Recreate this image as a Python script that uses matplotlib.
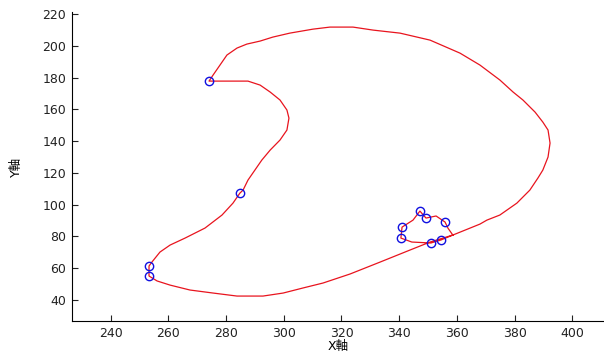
import numpy as np
import matplotlib.pyplot as plt

plt.rcParams['font.family'] = ['DejaVu Sans', 'Noto Sans CJK TC']

# contour traced as one path: small loop, outer arc, inner edge, bottom edge
path_x = [358.6, 356.9, 355.9, 352.8, 349.3, 347.2, 344.8, 341.0, 340.6, 344.4,
          351.0, 354.5, 358.6, 368.0, 370.4, 374.9, 380.8, 385.3, 388.1, 389.8,
          391.6, 392.3, 391.6, 389.8, 387.1, 382.9, 379.5, 374.9, 368.0, 361.1,
          350.7, 340.3, 331.0, 324.0, 316.0, 310.1, 302.1, 296.2, 291.8, 287.2,
          283.8, 280.3, 277.9, 275.5, 274.1, 287.6, 291.8, 295.3, 298.7, 301.1,
          301.8, 301.1, 298.7, 295.3, 292.4, 290.0, 287.6, 285.9, 284.8, 282.4,
          278.6, 272.7, 265.8, 260.6, 257.1, 254.3, 253.3, 253.3,
          256.1, 260.6, 267.5, 275.5, 283.8, 292.8, 299.8, 306.7, 313.6, 323.0,
          333.4, 343.8, 350.7, 358.6]
path_y = [80.9, 85.3, 89.1, 92.9, 91.6, 96.0, 90.3, 85.9, 79.0, 76.5,
          75.9, 77.8, 80.9, 87.8, 90.3, 93.5, 101.0, 109.2, 116.8, 121.8,
          130.0, 138.8, 147.0, 152.0, 158.3, 165.9, 170.9, 178.5, 187.9, 195.4,
          203.6, 208.0, 209.9, 211.8, 211.8, 210.5, 208.0, 205.5, 203.0, 201.1,
          198.6, 194.2, 187.9, 181.6, 177.8, 177.8, 175.3, 170.9, 165.9, 159.6,
          154.5, 147.0, 140.7, 134.4, 128.1, 121.8, 115.5, 109.2, 107.3, 101.0,
          93.5, 85.3, 79.0, 74.6, 70.2, 63.9, 61.4, 55.1,
          52.0, 49.4, 46.3, 44.4, 42.5, 42.5, 44.4, 47.6, 50.7, 56.4,
          63.9, 71.5, 76.5, 80.9]

# points de contrôle
pts_x = [274.1, 284.8, 253.3, 253.3, 347.2, 349.3, 355.9, 341.0, 340.6, 351.0, 354.5]
pts_y = [177.8, 107.3, 61.4, 55.1, 96.0, 91.6, 89.1, 85.9, 79.0, 75.9, 77.8]

xticks = [240, 260, 280, 300, 320, 340, 360, 380, 400]
yticks = [40, 60, 80, 100, 120, 140, 160, 180, 200, 220]

fig = plt.figure(figsize=(6.04, 3.56), dpi=100)
ax = fig.add_axes([0.1187, 0.0983, 0.8813, 0.868])

ax.plot(path_x, path_y, color='#e8141e', linewidth=0.9)
ax.plot(pts_x, pts_y, 'o', markerfacecolor='none', markeredgecolor='#1010e0',
        markersize=6, markeredgewidth=1.0)

ax.set_xlim(226.5, 411.0)
ax.set_ylim(26.8, 221.3)
ax.set_xticks(xticks)
ax.set_yticks(yticks)

ax.spines['top'].set_visible(False)
ax.spines['right'].set_visible(False)
ax.tick_params(direction='in', length=4, labelsize=9, colors='#222222', pad=4)

ax.set_xlabel('X軸', fontsize=9, labelpad=0)
ax.set_ylabel('Y軸', fontsize=9, labelpad=14)

fig.savefig('out.png', dpi=100)
